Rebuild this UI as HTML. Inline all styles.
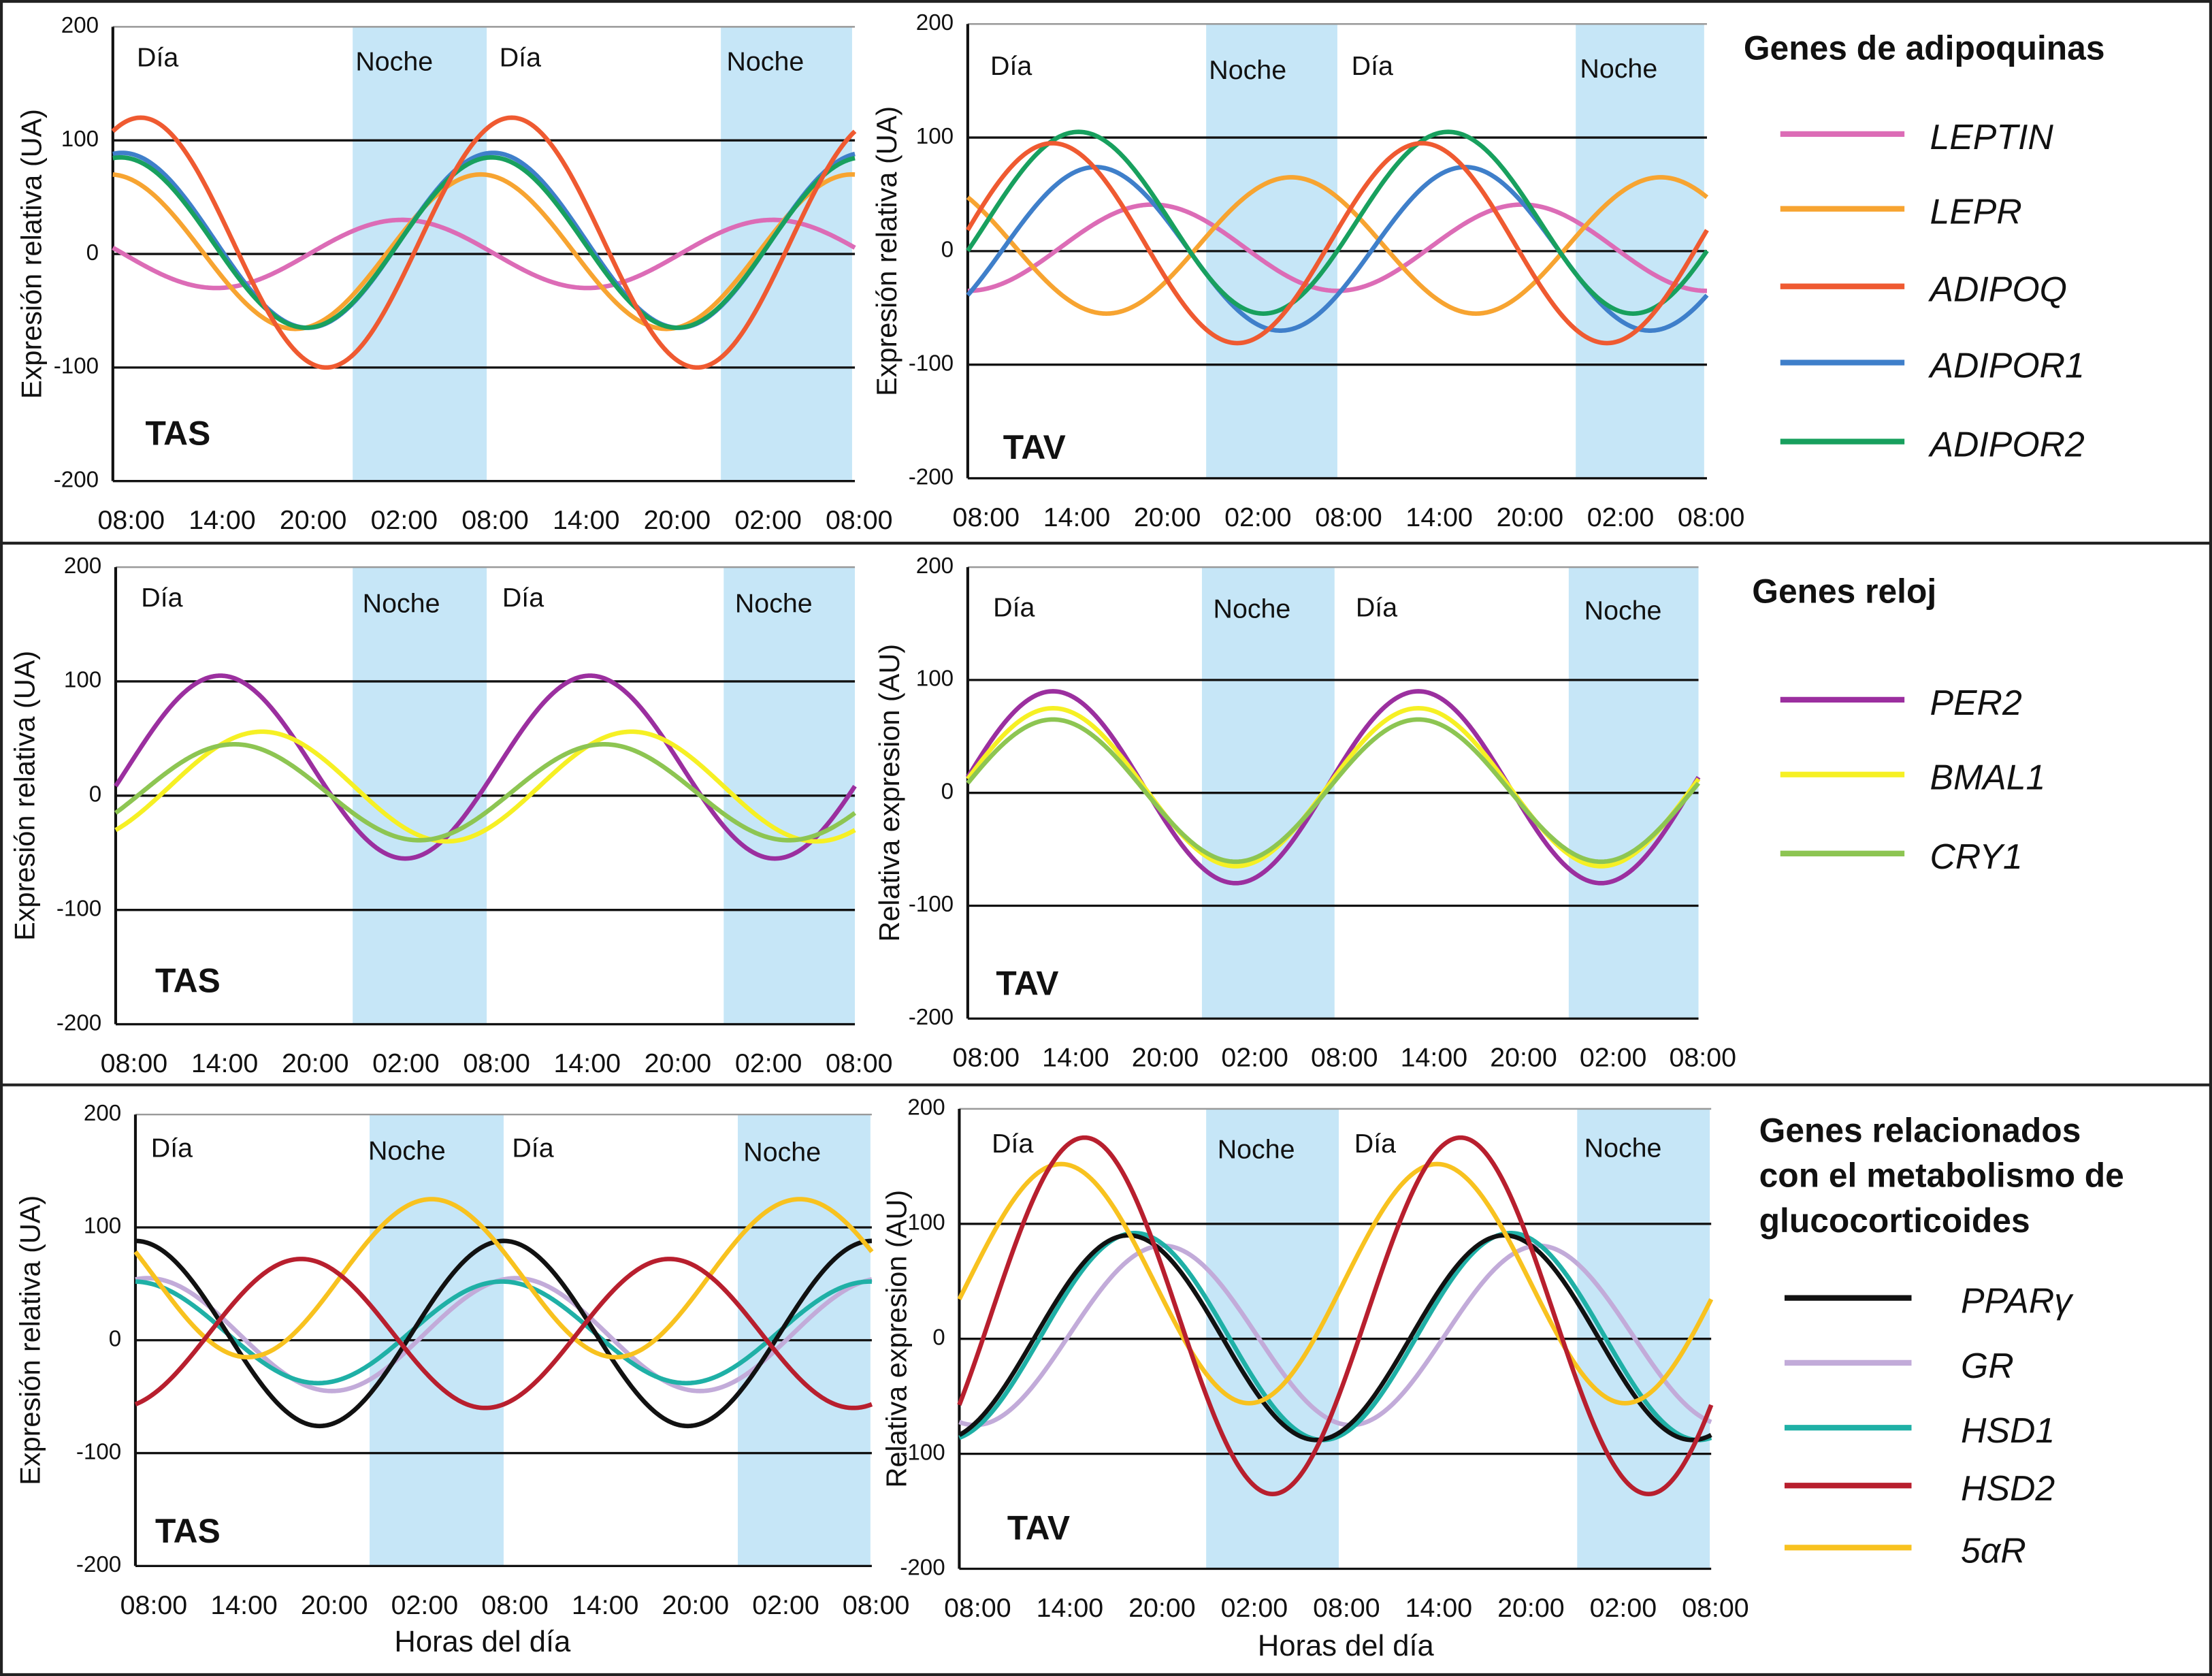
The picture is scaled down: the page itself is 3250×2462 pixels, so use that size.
<!DOCTYPE html>
<html><head><meta charset="utf-8"><style>
html,body{margin:0;padding:0;background:#fff;}
svg{display:block;}
text{font-family:"Liberation Sans",Arial,sans-serif;}
</style></head><body>
<svg id="fig" xmlns="http://www.w3.org/2000/svg" width="3250" height="2462" viewBox="0 0 1568 1188" preserveAspectRatio="none">
<rect x="1" y="1" width="1566" height="1186" fill="#fff" stroke="#222" stroke-width="2"/>
<line x1="0" y1="385" x2="1568" y2="385" stroke="#222" stroke-width="2"/>
<line x1="0" y1="769" x2="1568" y2="769" stroke="#222" stroke-width="2"/>
<g id="charts"></g>
<g id="legends"></g>
</svg>
<script>
// ---- data (cosinor parameters: mesor, amplitude, peak hour after 08:00) ----
const xTickLabels = ["08:00","14:00","20:00","02:00","08:00","14:00","20:00","02:00","08:00"];
const yTickValues = [200,100,0,-100,-200];

const adipoGenes = ["LEPTIN","LEPR","ADIPOQ","ADIPOR1","ADIPOR2"];
const adipoColors = ["#dc6cb6","#f7a431","#ef5a31","#3f7fca","#18a05e"];
const tasAdipoMesor = [0,2,10,12,10];
const tasAdipoAmp = [30,68,110,77,75];
const tasAdipoPeak = [18.7,23.8,1.8,0.6,0.5];
const tavAdipoMesor = [3,5,7,2,25];
const tavAdipoAmp = [38,60,88,72,80];
const tavAdipoPeak = [12,21,5.5,8.3,7.2];

const clockGenes = ["PER2","BMAL1","CRY1"];
const clockColors = ["#9b2f9f","#f6f024","#8dc552"];
const tasClockMesor = [25,8,3];
const tasClockAmp = [80,48,42];
const tasClockPeak = [6.8,9.5,7.7];
const tavClockMesor = [5,5,2];
const tavClockAmp = [85,70,63];
const tavClockPeak = [5.6,5.6,5.6];

const glucoGenes = ["PPARγ","GR","HSD1","HSD2","5αR"];
const glucoColors = ["#111111","#c2abd9","#1fb0a6","#b81f2e","#f8c21f"];
const tasGlucoMesor = [6,5,7,6,55];
const tasGlucoAmp = [82,50,45,66,70];
const tasGlucoPeak = [0,0.8,23.9,10.8,19.3];
const tavGlucoMesor = [1,3,2,20,48];
const tavGlucoAmp = [89,78,90,155,104];
const tavGlucoPeak = [10.8,13,11.2,8,6.5];
// drawing order (back to front)
const adipoOrder = [0,1,3,4,2];
const clockOrder = [0,1,2];
const glucoOrder = [1,2,0,4,3];

// ---- layout ----
const NS="http://www.w3.org/2000/svg";
function mk(tag,attrs,parent){const e=document.createElementNS(NS,tag);for(const k in attrs)e.setAttribute(k,attrs[k]);parent.appendChild(e);return e;}

const panels=[
 {id:"tas-adipo",x0:80,x1:606,yt:19,yb:341,night:[[250,345],[511,604]],labs:[[97,42,"Día"],[252,45,"Noche"],[354,42,"Día"],[515,45,"Noche"]],tag:[103,309,"TAS"],yl:[24,180,"Expresión relativa (UA)"],mes:tasAdipoMesor,amp:tasAdipoAmp,pk:tasAdipoPeak,cols:adipoColors,genes:adipoGenes,order:adipoOrder},
 {id:"tav-adipo",x0:686,x1:1210,yt:17,yb:339,night:[[855,948],[1117,1208]],labs:[[702,48,"Día"],[857,51,"Noche"],[958,48,"Día"],[1120,50,"Noche"]],tag:[711,319,"TAV"],yl:[630,178,"Expresión relativa (UA)"],mes:tavAdipoMesor,amp:tavAdipoAmp,pk:tavAdipoPeak,cols:adipoColors,genes:adipoGenes,order:adipoOrder},
 {id:"tas-clock",x0:82,x1:606,yt:402,yb:726,night:[[250,345],[513,606]],labs:[[100,425,"Día"],[257,429,"Noche"],[356,425,"Día"],[521,429,"Noche"]],tag:[110,697,"TAS"],yl:[19,564,"Expresión relativa (UA)"],mes:tasClockMesor,amp:tasClockAmp,pk:tasClockPeak,cols:clockColors,genes:clockGenes,order:clockOrder},
 {id:"tav-clock",x0:686,x1:1204,yt:402,yb:722,night:[[852,946],[1112,1204]],labs:[[704,432,"Día"],[860,433,"Noche"],[961,432,"Día"],[1123,434,"Noche"]],tag:[706,699,"TAV"],yl:[632,562,"Relativa expresion (AU)"],mes:tavClockMesor,amp:tavClockAmp,pk:tavClockPeak,cols:clockColors,genes:clockGenes,order:clockOrder},
 {id:"tas-gluco",x0:96,x1:618,yt:790,yb:1110,night:[[262,357],[523,617]],labs:[[107,815,"Día"],[261,817,"Noche"],[363,815,"Día"],[527,818,"Noche"]],tag:[110,1087,"TAS"],yl:[23,950,"Expresión relativa (UA)"],xt:[342,1165],mes:tasGlucoMesor,amp:tasGlucoAmp,pk:tasGlucoPeak,cols:glucoColors,genes:glucoGenes,order:glucoOrder},
 {id:"tav-gluco",x0:680,x1:1213,yt:786,yb:1112,night:[[855,949],[1118,1212]],labs:[[703,812,"Día"],[863,816,"Noche"],[960,812,"Día"],[1123,815,"Noche"]],tag:[714,1085,"TAV"],yl:[637,949,"Relativa expresion (AU)"],xt:[954,1168],mes:tavGlucoMesor,amp:tavGlucoAmp,pk:tavGlucoPeak,cols:glucoColors,genes:glucoGenes,order:glucoOrder}
];

const root=document.getElementById("charts");
panels.forEach(p=>{
 const g=mk("g",{},root);
 
 
 const xs=h=>p.x0+(p.x1-p.x0)*h/48;
 const ys=v=>p.yt+(p.yb-p.yt)*(200-v)/400;
 p.night.forEach((n,i)=>{
  const r=mk("rect",{x:n[0],y:p.yt,width:n[1]-n[0],height:p.yb-p.yt,fill:"#c6e6f7"},g);
  
  
 });
 p.labs.forEach(l=>{
  const t=mk("text",{x:l[0],y:l[1],"font-size":19,"dominant-baseline":"middle",fill:"#111"},g);
  t.textContent=l[2];
  
  
 });
 yTickValues.forEach(v=>{
  const ln=mk("line",{x1:p.x0,x2:p.x1,y1:ys(v),y2:ys(v),stroke:v===200?"#999":"#111","stroke-width":v===200?1.2:1.6},g);
  
  
  const t=mk("text",{x:p.x0-10,y:ys(v),"font-size":16,"text-anchor":"end","dominant-baseline":"middle",fill:"#111"},g);
  t.textContent=String(v);
  
  
 });
 const ax=mk("line",{x1:p.x0,x2:p.x0,y1:p.yt,y2:p.yb,stroke:"#111","stroke-width":2},g);
 
 
 const lx0=p.x0+13, lx1=p.x1+3;
 xTickLabels.forEach((lab,i)=>{
  const t=mk("text",{x:lx0+(lx1-lx0)*i/8,y:p.yb+34,"font-size":19,"text-anchor":"middle",fill:"#111"},g);
  t.textContent=lab;
  
  
 });
 p.order.forEach(i=>{
  let d="";
  for(let k=0;k<=480;k++){const h=k*0.1;const v=p.mes[i]+p.amp[i]*Math.cos(2*Math.PI*(h-p.pk[i])/24);d+=(k?"L":"M")+xs(h).toFixed(2)+","+ys(v).toFixed(2);}
  const path=mk("path",{d:d,fill:"none",stroke:p.cols[i],"stroke-width":3.2,"stroke-linejoin":"round"},g);
  
  
 });
 const tg=mk("text",{x:p.tag[0],y:p.tag[1],"font-size":24,"font-weight":"bold","dominant-baseline":"middle",fill:"#111"},g);
 tg.textContent=p.tag[2];
 
 
 const yl=mk("text",{x:p.yl[0],y:p.yl[1],"font-size":20,"text-anchor":"middle","dominant-baseline":"middle",fill:"#111",transform:"rotate(-90 "+p.yl[0]+" "+p.yl[1]+")"},g);
 yl.textContent=p.yl[2];
 
 
 if(p.xt){
  const xt=mk("text",{x:p.xt[0],y:p.xt[1],"font-size":21,"text-anchor":"middle","dominant-baseline":"middle",fill:"#111"},g);
  xt.textContent="Horas del día";
  
  
 }
});

// ---- legends ----
const L=document.getElementById("legends");
function title(lines,x,y,dy){lines.forEach((s,i)=>{const t=mk("text",{x:x,y:y+i*dy,"font-size":24,"font-weight":"bold","dominant-baseline":"middle",fill:"#111"},L);t.textContent=s;});}
function entries(genes,cols,lx0,lx1,tx,ys){genes.forEach((gname,i)=>{
 const ln=mk("line",{x1:lx0,x2:lx1,y1:ys[i],y2:ys[i],stroke:cols[i],"stroke-width":4},L);
 
 
 const t=mk("text",{x:tx,y:ys[i]+4,"font-size":25,"font-style":"italic","dominant-baseline":"middle",fill:"#111"},L);
 t.textContent=gname;
 
 
});}
title(["Genes de adipoquinas"],1236,36,0);
entries(adipoGenes,adipoColors,1262,1350,1368,[95,148,203,257,313]);
title(["Genes reloj"],1242,421,0);
entries(clockGenes,clockColors,1262,1350,1368,[496,549,605]);
title(["Genes relacionados","con el metabolismo de","glucocorticoides"],1247,803,32);
entries(glucoGenes,glucoColors,1265,1355,1390,[920,966,1012,1053,1097]);
</script>
</body></html>
